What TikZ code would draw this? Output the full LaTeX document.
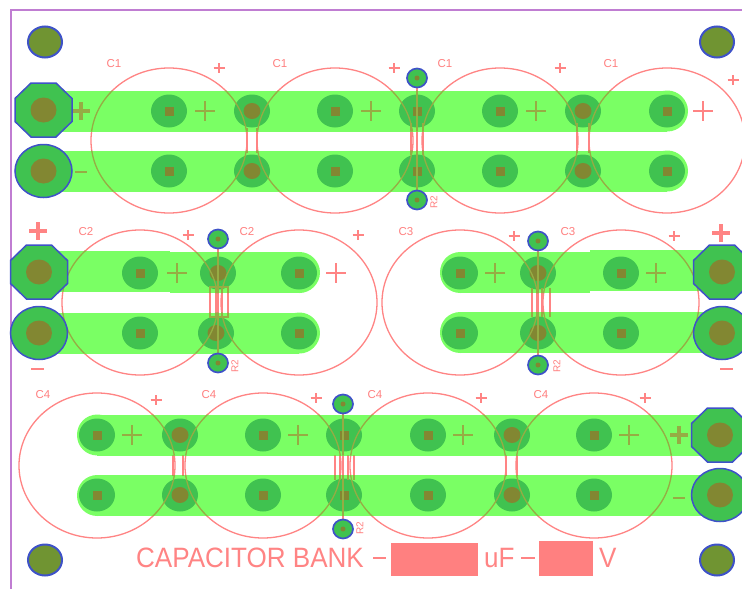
\documentclass[tikz,border=0pt]{standalone}
\usepackage{fontspec}
\setmainfont{Liberation Sans}
\definecolor{trace}{RGB}{122,255,100}
\definecolor{padg}{RGB}{64,194,80}
\definecolor{drill}{RGB}{130,135,50}
\definecolor{holecol}{RGB}{112,148,50}
\definecolor{padb}{RGB}{62,82,200}
\definecolor{silk}{RGB}{255,128,128}
\definecolor{silkline}{RGB}{255,132,132}
\definecolor{olive}{RGB}{150,172,68}
\definecolor{framecol}{RGB}{192,125,210}
\colorlet{markcol}{silkline}
\tikzset{
  track/.style={draw=trace,line width=41pt,line cap=round},
  trackflat/.style={draw=trace,line width=41pt},
  outline/.style={draw=markcol,line width=1.3pt},
  thickmark/.style={draw=markcol,line width=3.4pt},
  lbl/.style={text=silk,font=\fontsize{11.5}{12}\selectfont,inner sep=0pt},
  titletxt/.style={text=silkline,font=\fontsize{28}{30}\selectfont,inner sep=0pt,xscale=0.93,anchor=west},
  refdes/.style={text=silk,font=\fontsize{10}{11}\selectfont,inner sep=0pt,rotate=90}
}
\newcommand{\padsq}[2]{\fill[padg] (#1,#2) ellipse (18pt and 16.5pt);\fill[drill] (#1-4.5,#2-4.5) rectangle (#1+4.5,#2+4.5);}
\newcommand{\padrd}[2]{\fill[padg] (#1,#2) ellipse (18pt and 16.5pt);\fill[drill] (#1,#2) ellipse (8.5pt and 8pt);}
\newcommand{\viapad}[2]{\filldraw[fill=padg,draw=padb,line width=1.7pt] (#1,#2) ellipse (10pt and 9.5pt);\fill[drill] (#1,#2) circle (2.5pt);}
\newcommand{\mounthole}[2]{\filldraw[fill=holecol,draw=padb,line width=2pt] (#1,#2) ellipse (17pt and 15.5pt);}
\newcommand{\octpad}[2]{\filldraw[fill=padg,draw=padb,line width=1.5pt]
  (#1-12.5,#2-27) -- (#1+12.5,#2-27) -- (#1+28.5,#2-11.5) -- (#1+28.5,#2+11.5) -- (#1+12.5,#2+27) -- (#1-12.5,#2+27) -- (#1-28.5,#2+11.5) -- (#1-28.5,#2-11.5) -- cycle;
  \fill[drill] (#1,#2) ellipse (13pt and 12.5pt);}
\newcommand{\rndpad}[2]{\filldraw[fill=padg,draw=padb,line width=1.5pt] (#1,#2) ellipse (28.5pt and 26.5pt);
  \fill[drill] (#1,#2) ellipse (13pt and 12.5pt);}
\newcommand{\thinplus}[2]{\draw[outline] (#1-10,#2) -- (#1+10,#2) (#1,#2-10) -- (#1,#2+10);}
\newcommand{\smallplus}[2]{\draw[draw=markcol,line width=1.6pt] (#1-5.5,#2) -- (#1+5.5,#2) (#1,#2-5) -- (#1,#2+5);}
\newcommand{\bigplus}[2]{\draw[thickmark] (#1-9,#2) -- (#1+9,#2) (#1,#2-9) -- (#1,#2+9);}
\newcommand{\capring}[2]{\draw[outline] (#1,#2) ellipse (78pt and 72.5pt);}
\newcommand{\silklayer}{%
\foreach \x in {169,335,500,667}{\capring{\x}{140.5}}
\foreach \x in {140,299,460,621}{\capring{\x}{302.5}}
\foreach \x in {97,263,428,594}{\capring{\x}{465.5}}
\draw[outline] (247,128) -- (247,153) (257,128) -- (257,153);
\draw[draw=markcol,line width=2.4pt] (411,123) -- (411,155) (423,123) -- (423,155);
\draw[outline] (417,88) -- (417,191);
\draw[outline] (577,123) -- (577,153) (589,123) -- (589,153);
\draw[outline] (210,287) rectangle (228,317);
\draw[outline] (216,287) -- (216,317) (222,287) -- (222,317);
\draw[outline] (218,249) -- (218,354);
\draw[outline] (532,288) -- (532,317) (537,288) -- (537,317) (542,288) -- (542,317) (550,288) -- (550,317);
\draw[outline] (538,251) -- (538,356);
\draw[outline] (173,455) -- (173,476) (183,455) -- (183,476);
\draw[outline] (335,455) -- (335,480) (340,455) -- (340,480) (348,455) -- (348,480) (354,455) -- (354,480);
\draw[outline] (343,414) -- (343,520);
\draw[outline] (506,455) -- (506,476) (517,455) -- (517,476);
\thinplus{205}{111}\thinplus{371}{111}\thinplus{536}{111}\thinplus{703}{111}
\thinplus{177}{273}\thinplus{336}{273}\thinplus{495}{273}\thinplus{656}{273}
\thinplus{132}{435}\thinplus{298}{435}\thinplus{463}{435}\thinplus{629}{435}
\bigplus{81}{111}\bigplus{679}{435}
\bigplus{38}{231}\bigplus{721}{233}
\draw[outline] (75,172) -- (87,172) (673,498) -- (685,498);
\draw[draw=markcol,line width=1.8pt] (31,369) -- (44,369) (720,369) -- (733,369);
\smallplus{219}{68}\smallplus{394}{68}\smallplus{560}{68}\smallplus{733}{80}
\smallplus{188}{235}\smallplus{358}{235}\smallplus{514}{236}\smallplus{674}{236}
\smallplus{156}{400}\smallplus{316}{398}\smallplus{481}{398}\smallplus{645}{398}
}
\begin{document}
\begin{tikzpicture}[x=1pt,y=-1pt]
\path[clip] (0,0) rectangle (742,589);
\fill[white] (0,0) rectangle (742,589);
% frame
\draw[framecol,line width=1.6pt] (11,589) -- (11,10) -- (742,10);
% silkscreen on bare board
\silklayer
% tracks
\draw[trackflat] (43,111) -- (667,111);
\draw[track] (667,111) -- (667,111.01);
\draw[trackflat] (43,171) -- (667,171);
\draw[track] (667,171) -- (667,171.01);
\draw[trackflat] (39,271) -- (170,271);
\draw[trackflat] (170,272.5) -- (299,272.5);
\draw[track] (299,272.5) -- (299,272.51);
\draw[trackflat] (39,333) -- (299,333);
\draw[track] (299,333) -- (299,333.01);
\draw[track] (460,272.5) -- (460,272.51);
\draw[trackflat] (460,272.5) -- (590,272.5);
\draw[trackflat] (590,270.5) -- (722,270.5);
\draw[track] (460,332.5) -- (460,332.51);
\draw[trackflat] (460,332.5) -- (722,332.5);
\draw[track] (97,435) -- (97,435.01);
\draw[trackflat] (97,435) -- (720,435);
\draw[track] (97,495.5) -- (97,495.51);
\draw[trackflat] (97,495.5) -- (720,495.5);
% pads
\foreach \y in {111,171}{
  \padsq{169}{\y}\padrd{252}{\y}\padsq{335}{\y}\padsq{417}{\y}\padsq{500}{\y}\padrd{583}{\y}\padsq{667}{\y}}
\foreach \y in {273,333}{
  \padsq{140}{\y}\padsq{299}{\y}\padsq{460}{\y}\padrd{538}{\y}\padsq{621}{\y}}
\padrd{218}{273}\padrd{216}{333}
\foreach \y in {435,495}{
  \padsq{97}{\y}\padrd{180}{\y}\padsq{263}{\y}\padsq{344}{\y}\padsq{428}{\y}\padrd{512}{\y}\padsq{594}{\y}}
% silkscreen seen through the copper
\begin{scope}
\colorlet{markcol}{olive}
\clip (43,90.5) rectangle (667,131.5)
      (43,150.5) rectangle (667,191.5)
      (39,250.5) rectangle (170,291.5)
      (170,252) rectangle (299,293)
      (39,312.5) rectangle (299,353.5)
      (460,252) rectangle (590,293)
      (590,250) rectangle (722,291)
      (460,312) rectangle (722,353)
      (97,414.5) rectangle (720,455.5)
      (97,475) rectangle (720,516);
\silklayer
\end{scope}
\octpad{43.5}{110}\rndpad{43.5}{171}
\octpad{39}{272}\rndpad{39}{333}
\octpad{722}{272}\rndpad{722}{333}
\octpad{720}{435}\rndpad{720}{495}
\viapad{417}{78}\viapad{417}{200}\viapad{218}{239}\viapad{218}{363}
\viapad{538}{241}\viapad{538}{365}\viapad{343}{404}\viapad{343}{529}
\mounthole{45}{42}\mounthole{717}{42}\mounthole{45}{560}\mounthole{717}{560}
% labels
\node[lbl] (c1a) at (114,64) {C1};
\node[lbl] (c1b) at (280,64) {C1};
\node[lbl] (c1c) at (445,64) {C1};
\node[lbl] (c1d) at (611,64) {C1};
\node[lbl] (c2a) at (86,232) {C2};
\node[lbl] (c2b) at (247,232) {C2};
\node[lbl] (c3a) at (406,232) {C3};
\node[lbl] (c3b) at (568,232) {C3};
\node[lbl] (c4a) at (43,395) {C4};
\node[lbl] (c4b) at (209,395) {C4};
\node[lbl] (c4c) at (375,395) {C4};
\node[lbl] (c4d) at (541,395) {C4};
\node[refdes] (r1) at (434,202) {R2};
\node[refdes] (r2) at (235,366) {R2};
\node[refdes] (r3) at (557,366) {R2};
\node[refdes] (r4) at (360,528) {R2};
% title block
\node[titletxt] (titletext) at (136,558) {CAPACITOR BANK};
\draw[draw=silkline,line width=1.5pt] (373,558) -- (386,558);
\fill[silk] (391,543) rectangle (478,576);
\node[titletxt] (unitf) at (484,558) {uF};
\draw[draw=silkline,line width=1.5pt] (521,558) -- (535,558);
\fill[silk] (539,541) rectangle (593,576);
\node[titletxt] (unitv) at (599,558) {V};
\end{tikzpicture}
\end{document}
